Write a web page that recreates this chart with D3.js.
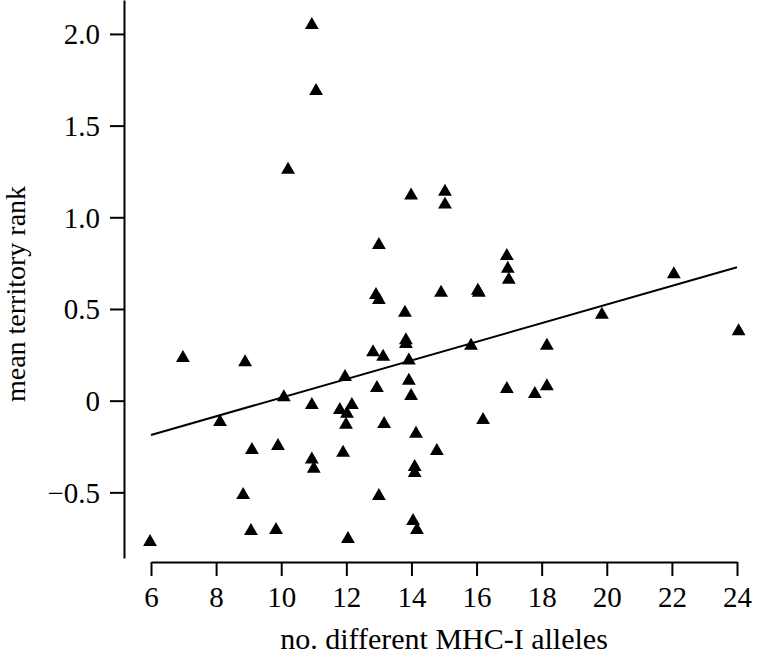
<!DOCTYPE html>
<html>
<head>
<meta charset="utf-8">
<script src="https://cdn.jsdelivr.net/npm/d3@7"></script>
<style>
  html, body { margin: 0; padding: 0; background: #fff; }
  svg { display: block; }
  text { font-family: "Liberation Serif", "Times New Roman", serif; fill: #000; }
</style>
</head>
<body>
<svg id="chart" width="763" height="659"></svg>
<script>
// ---- data ----
const allelesX = [
  10.94, 11.07, 10.21, 13.99, 15.03, 15.03, 13.0, 16.93, 16.96, 16.99,
  22.06, 12.91, 13.0, 14.91, 16.04, 16.07, 13.8, 19.85, 13.83, 13.83,
  15.83, 24.05, 12.82, 13.13, 13.92, 6.98, 8.89, 18.16, 11.96, 12.94,
  13.92, 13.99, 16.93, 18.16, 17.79, 10.08, 8.12, 10.94, 12.17, 11.8,
  12.02, 11.99, 13.16, 16.2, 14.14, 9.1, 9.9, 10.94, 11.0, 11.9,
  14.78, 14.1, 14.1, 8.83, 13.0, 14.05, 14.17, 9.07, 9.84, 12.05,
  5.97
];
const territoryRank = [
  2.06, 1.70, 1.27, 1.13, 1.15, 1.08, 0.86, 0.80, 0.73, 0.67,
  0.70, 0.587, 0.56, 0.60, 0.61, 0.60, 0.49, 0.48, 0.34, 0.32,
  0.31, 0.39, 0.275, 0.25, 0.23, 0.244, 0.22, 0.31, 0.14, 0.08,
  0.12, 0.037, 0.075, 0.09, 0.047, 0.03, -0.105, -0.013, -0.013, -0.04,
  -0.06, -0.12, -0.116, -0.094, -0.17, -0.258, -0.236, -0.31, -0.36, -0.273,
  -0.263, -0.351, -0.384, -0.503, -0.509, -0.645, -0.694, -0.70, -0.695, -0.744,
  -0.76
];
const fitX = [6, 24];
const fitY = [-0.187, 0.728];
const xTicks = [6, 8, 10, 12, 14, 16, 18, 20, 22, 24];
const yTicks = [-0.5, 0, 0.5, 1.0, 1.5, 2.0];
const yTickLabels = ["\u22120.5", "0", "0.5", "1.0", "1.5", "2.0"];
const xTitle = "no. different MHC-I alleles";
const yTitle = "mean territory rank";

// ---- layout ----
const svg = d3.select("#chart");
const x = d3.scaleLinear().domain([6, 24]).range([151, 737]);
const y = d3.scaleLinear().domain([-0.858, 2.185]).range([558, 0]);
const tickFont = 29;
const titleFont = 30;

// y axis
const yAxis = d3.axisLeft(y)
  .tickValues(yTicks)
  .tickFormat((d, i) => yTickLabels[i])
  .tickSize(14).tickSizeOuter(0).tickPadding(10);
const gy = svg.append("g").attr("transform", "translate(124,0)").call(yAxis);
gy.select(".domain").attr("stroke", "#000").attr("stroke-width", 2);
gy.selectAll(".tick line").attr("stroke", "#000").attr("stroke-width", 2);
gy.selectAll(".tick text")
  .attr("font-family", '"Liberation Serif", serif')
  .attr("font-size", tickFont).attr("fill", "#000").attr("dy", "0.34em");

// x axis
const xAxis = d3.axisBottom(x)
  .tickValues(xTicks)
  .tickFormat(d3.format("d"))
  .tickSize(14).tickSizeOuter(0).tickPadding(10);
const gx = svg.append("g").attr("transform", "translate(0,562)").call(xAxis);
gx.select(".domain").attr("stroke", "#000").attr("stroke-width", 2);
gx.selectAll(".tick line").attr("stroke", "#000").attr("stroke-width", 2);
gx.selectAll(".tick text")
  .attr("font-family", '"Liberation Serif", serif')
  .attr("font-size", tickFont).attr("fill", "#000");

// regression line
const line = d3.line().x(d => x(d[0])).y(d => y(d[1]));
svg.append("path")
  .datum(fitX.map((v, i) => [v, fitY[i]]))
  .attr("d", line)
  .attr("fill", "none").attr("stroke", "#000").attr("stroke-width", 2);

// triangle marker centred on its bounding box
const triBox = {
  draw(ctx, size) {
    const h = Math.sqrt(size * Math.sqrt(3));
    const w = 2 * h / Math.sqrt(3);
    ctx.moveTo(0, -h / 2);
    ctx.lineTo(w / 2, h / 2);
    ctx.lineTo(-w / 2, h / 2);
    ctx.closePath();
  }
};
const sym = d3.symbol().type(triBox).size(83);
svg.append("g").selectAll("path")
  .data(allelesX.map((v, i) => [v, territoryRank[i]]))
  .join("path")
  .attr("transform", d => `translate(${x(d[0])},${y(d[1])})`)
  .attr("d", sym)
  .attr("fill", "#000");

// axis titles
svg.append("text")
  .attr("x", 444).attr("y", 649)
  .attr("text-anchor", "middle")
  .attr("font-size", titleFont)
  .text(xTitle);
svg.append("text")
  .attr("transform", "translate(25,294) rotate(-90)")
  .attr("text-anchor", "middle")
  .attr("font-size", 28)
  .text(yTitle);
</script>
</body>
</html>
